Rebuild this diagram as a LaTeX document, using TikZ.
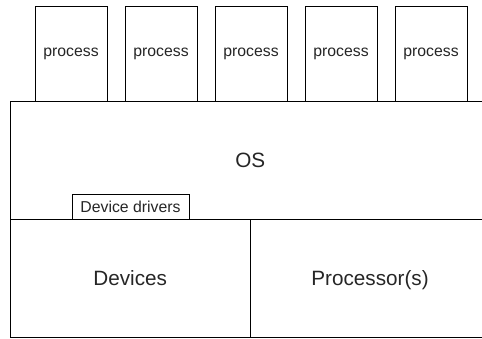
\documentclass[tikz,border=0pt]{standalone}
\usepackage{fontspec}
\setsansfont{Liberation Sans}
\usetikzlibrary{positioning}

\begin{document}
\begin{tikzpicture}[x=1pt, y=-1pt,
  every node/.style={font=\sffamily, text=black!85},
  proc/.style={draw, fill=white, rectangle, line width=1pt, inner sep=0pt,
               minimum width=72pt, minimum height=95pt,
               font=\sffamily\fontsize{15.8}{19}\selectfont},
  layer/.style={draw, fill=white, rectangle, line width=1pt, inner sep=0pt,
                minimum height=118pt, text height=14.8pt, text depth=0pt,
                font=\sffamily\fontsize{20.7}{24}\selectfont},
  drv/.style={draw, fill=white, rectangle, line width=1pt, inner sep=0pt,
              minimum width=117pt, minimum height=25pt,
              font=\sffamily\fontsize{15.8}{19}\selectfont}]

\useasboundingbox (0,0) rectangle (482,338);
\clip (0,0) rectangle (482,338);

%% ---- OS and hardware layers ----
\node[layer, minimum width=479.5pt] (OS)   at (250.25,160) {OS};
\node[layer, minimum width=239.5pt] (DEV)  at (130.25,278) {Devices};
\node[layer, minimum width=240pt]   (CPU)  at (370,278)    {Processor(s)};
\node[drv]                          (DRV)  at (130.5,206.5) {Device drivers};

%% ---- processes on top ----
\foreach \i/\x in {1/71, 2/161, 3/251, 4/341, 5/431}
  \node[proc] (P\i) at (\x,53.5) {process};

\end{tikzpicture}
\end{document}
